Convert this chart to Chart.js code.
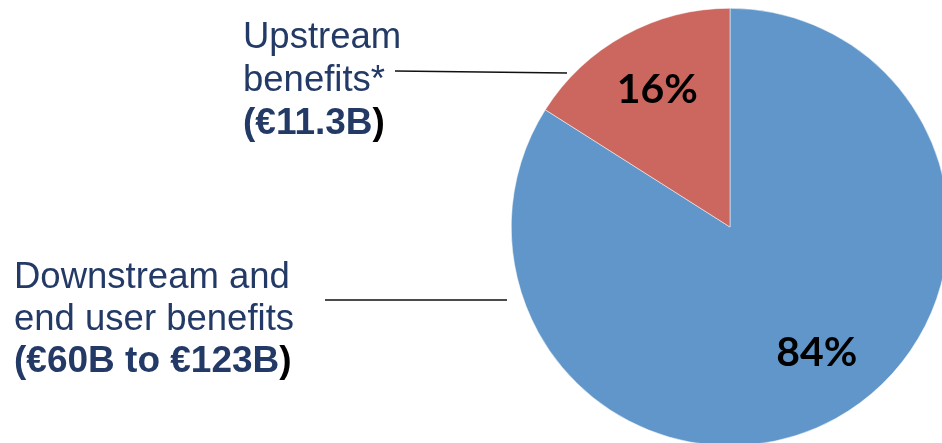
<!DOCTYPE html>
<html>
<head>
<meta charset="utf-8">
<script src="https://cdn.jsdelivr.net/npm/chart.js@4.4.1/dist/chart.umd.min.js"></script>
<style>
  html, body { margin: 0; padding: 0; background: #fff; }
  .wrap { position: relative; width: 942px; height: 443px; overflow: hidden; }
  .wrap canvas { position: absolute; left: 0; top: 0; }
</style>
</head>
<body>
<div class="wrap">
  <canvas class="pie_chart" width="1000" height="460"></canvas>
</div>
<script>
// slices, drawn clockwise from 12 o'clock
const sliceNames = ['Downstream and end user benefits', 'Upstream benefits*'];
const sliceShares = [84, 16];
const sliceColors = ['#6096C9', '#CC6760'];

// text blocks on the left: plain lines, then the bold value line
const nameLines = [
    ['Downstream and', 'end user benefits'],
    ['Upstream', 'benefits*'],
];
const valueLines = ['(€60B to €123B)', '(€11.3B)'];

const navy = '#243A66';

const side_labels = {
    id: 'side_labels',
    afterDraw(chart) {
        const { ctx } = chart;
        const arcs = chart.getDatasetMeta(0).data;
        ctx.save();

        // percentages inside the slices (small nudge like the original layout)
        const nudge = [[13, -8], [1, -3]];
        ctx.font = 'bold 41px Lato';
        ctx.fillStyle = '#000';
        ctx.textAlign = 'center';
        ctx.textBaseline = 'middle';
        arcs.forEach((arc, i) => {
            const mid = (arc.startAngle + arc.endAngle) / 2;
            const r = arc.outerRadius * 0.7;
            ctx.fillText(sliceShares[i] + '%',
                arc.x + Math.cos(mid) * r + nudge[i][0],
                arc.y + Math.sin(mid) * r + nudge[i][1]);
        });

        // text blocks
        const blocks = [
            { x: 14, y: 288, step: 42 },
            { x: 243, y: 48, step: 43 },
        ];
        ctx.textAlign = 'left';
        ctx.textBaseline = 'alphabetic';
        blocks.forEach((b, i) => {
            ctx.fillStyle = navy;
            ctx.font = '36.5px "Liberation Sans"';
            nameLines[i].forEach((t, j) => ctx.fillText(t, b.x, b.y + j * b.step));
            const y = b.y + nameLines[i].length * b.step;
            const txt = valueLines[i];
            const body = txt.slice(0, -1);
            ctx.font = 'bold 37px "Liberation Sans"';
            ctx.fillText(body, b.x, y);
            ctx.fillStyle = '#000';
            ctx.fillText(')', b.x + ctx.measureText(body).width, y);
        });

        // leader lines
        ctx.strokeStyle = '#111';
        ctx.lineWidth = 1.3;
        ctx.beginPath();
        ctx.moveTo(325, 300);
        ctx.lineTo(507, 300);
        ctx.moveTo(395, 71);
        ctx.lineTo(567, 73);
        ctx.stroke();

        ctx.restore();
    },
};

const ctx = document.querySelector('.pie_chart').getContext('2d');

const pie_Chart = new Chart(ctx, {
    type: 'pie',
    data: {
        labels: sliceNames,
        datasets: [{
            data: sliceShares,
            backgroundColor: sliceColors,
            borderColor: '#fff',
            borderWidth: 0.5,
        }],
    },
    options: {
        responsive: false,
        animation: false,
        layout: {
            padding: { left: 511, top: 8, right: 51, bottom: 14 },
        },
        plugins: {
            legend: { display: false },
            tooltip: { enabled: false },
        },
    },
    plugins: [side_labels],
});
</script>
</body>
</html>
